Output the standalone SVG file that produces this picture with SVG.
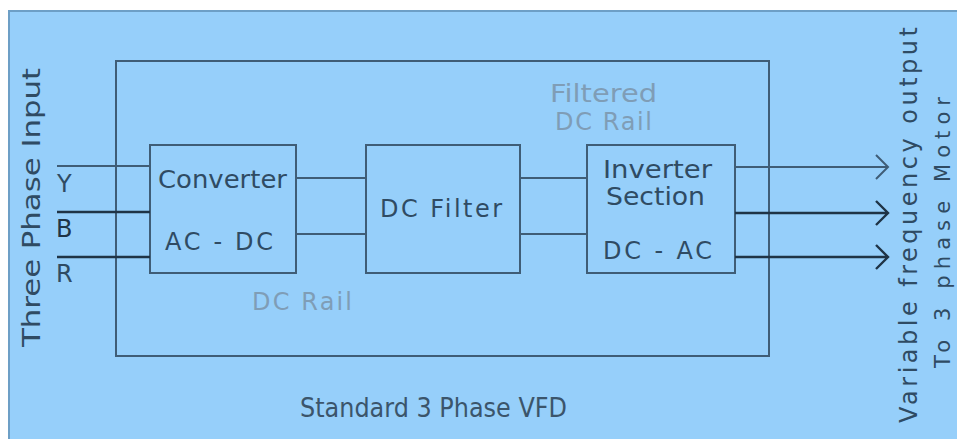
<svg xmlns="http://www.w3.org/2000/svg" width="957" height="439" viewBox="0 0 957 439">
<style>
.box{fill:none;stroke:#3f5d76;stroke-width:2}
.ln{fill:none;stroke:#3f5d76;stroke-width:2}
.lnd{fill:none;stroke:#1f3446;stroke-width:2.4}
.t{font-family:"DejaVu Sans",sans-serif;font-size:24px;fill:#2f4b63}
.g{font-family:"DejaVu Sans",sans-serif;font-size:24px;fill:#7f9db6}
.s{font-family:"DejaVu Sans",Verdana,sans-serif;font-size:26px;fill:#3b556b}
</style>
<rect x="0" y="0" width="957" height="439" fill="#ffffff"/>
<rect x="9" y="11" width="960" height="440" fill="#96cffa" stroke="#6d9fc6" stroke-width="2"/>

<g id="vfd-frame">
<rect class="box" x="116" y="61" width="653" height="295"/>
<text class="s" x="300" y="417" textLength="267" lengthAdjust="spacingAndGlyphs">Standard 3 Phase VFD</text>
</g>

<g id="input-label">
<text class="t" transform="translate(40,347) rotate(-90)" textLength="279" lengthAdjust="spacingAndGlyphs">Three Phase Input</text>
<text class="t" x="57" y="192">Y</text>
<text class="t" x="56" y="237" style="fill:#1f3446">B</text>
<text class="t" x="56" y="282">R</text>
</g>

<g id="converter">
<rect class="box" x="150" y="145" width="146" height="128"/>
<text class="t" x="158" y="188" textLength="129" lengthAdjust="spacingAndGlyphs">Converter</text>
<text class="t" x="165" y="250" textLength="108" lengthAdjust="spacing">AC - DC</text>
</g>

<g id="dc-filter">
<rect class="box" x="366" y="145" width="154" height="128"/>
<text class="t" x="380" y="217" textLength="122" lengthAdjust="spacing">DC Filter</text>
</g>

<g id="inverter">
<rect class="box" x="587" y="145" width="148" height="128"/>
<text class="t" x="603" y="178" textLength="109" lengthAdjust="spacingAndGlyphs">Inverter</text>
<text class="t" x="606" y="205" textLength="99" lengthAdjust="spacingAndGlyphs">Section</text>
<text class="t" x="603" y="259" textLength="109" lengthAdjust="spacing">DC - AC</text>
</g>

<g id="rail-labels">
<text class="g" x="550" y="102" textLength="107" lengthAdjust="spacingAndGlyphs">Filtered</text>
<text class="g" x="555" y="130" textLength="97" lengthAdjust="spacing">DC Rail</text>
<text class="g" x="252" y="310" textLength="100" lengthAdjust="spacing">DC Rail</text>
</g>

<g id="output-label">
<text class="t" transform="translate(917,423) rotate(-90)" textLength="396" lengthAdjust="spacing">Variable frequency output</text>
<text class="t" style="font-size:21px" transform="translate(950,368) rotate(-90)" textLength="271" lengthAdjust="spacing">To 3 phase Motor</text>
</g>

<g id="connectors">
<line class="ln" x1="57" y1="166" x2="150" y2="166"/>
<line class="lnd" x1="57" y1="212" x2="150" y2="212"/>
<line class="lnd" x1="57" y1="257" x2="150" y2="257"/>
<line class="ln" x1="296" y1="178" x2="366" y2="178"/>
<line class="ln" x1="296" y1="234" x2="366" y2="234"/>
<line class="ln" x1="520" y1="178" x2="587" y2="178"/>
<line class="ln" x1="520" y1="234" x2="587" y2="234"/>
<path class="ln" d="M735,167 H888 M876,155 L888,167 L876,179"/>
<path class="lnd" d="M735,213 H888 M876,201 L888,213 L876,225"/>
<path class="lnd" d="M735,257 H888 M876,245 L888,257 L876,269"/>
</g>
</svg>
